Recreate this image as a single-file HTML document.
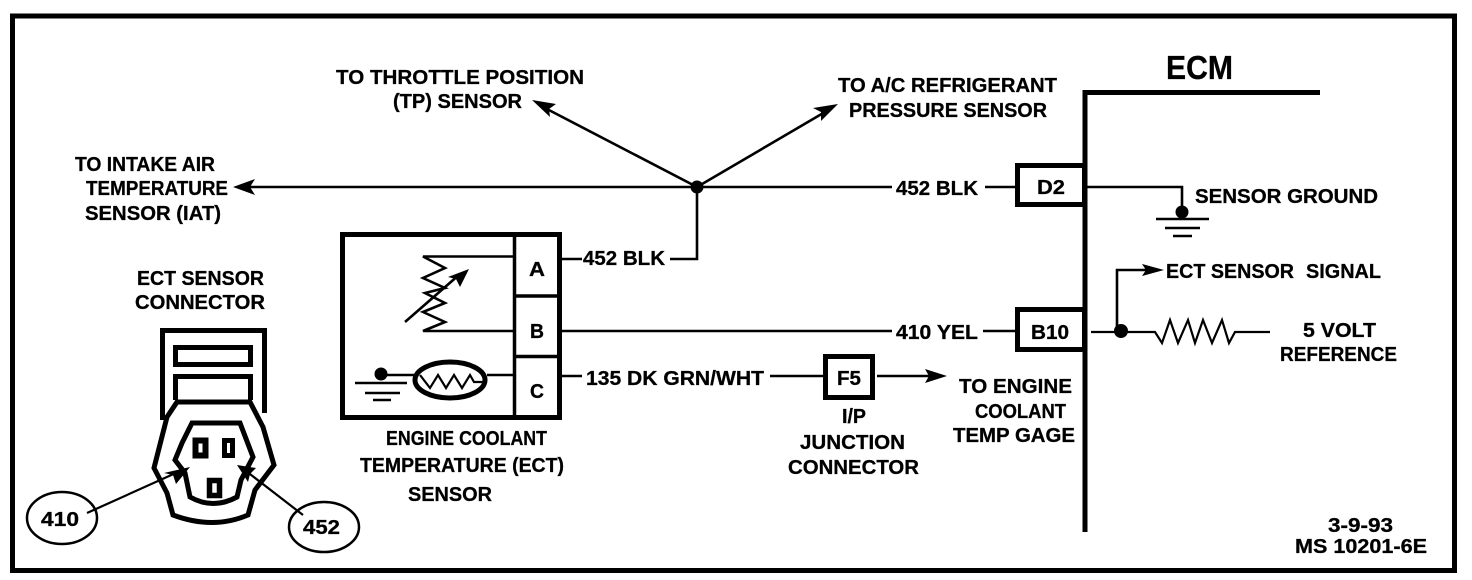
<!DOCTYPE html>
<html><head><meta charset="utf-8"><style>
html,body{margin:0;padding:0;background:#fff;width:1472px;height:580px;overflow:hidden}
svg{display:block}
text{font-family:"Liberation Sans",sans-serif;font-weight:700;font-size:20.5px;fill:#000;stroke:#000;stroke-width:.3px}
.l{fill:none;stroke:#000;stroke-width:2.6}
.t{fill:none;stroke:#000;stroke-width:2.2}
.b{fill:none;stroke:#000;stroke-width:5}
</style></head><body>
<svg width="1472" height="580" viewBox="0 0 1472 580" xmlns="http://www.w3.org/2000/svg">
<rect x="12.5" y="16" width="1442" height="554.5" fill="none" stroke="#000" stroke-width="5"/>
<!-- ECM -->
<path d="M1320 92.5H1085V532" fill="none" stroke="#000" stroke-width="5"/>
<text x="1166" y="79" style="font-size:33px" textLength="67" lengthAdjust="spacingAndGlyphs">ECM</text>
<rect x="1017.5" y="165.5" width="67" height="39" class="b"/>
<rect x="1017.5" y="309.5" width="67" height="40" class="b"/>
<text x="1037" y="194" textLength="28" lengthAdjust="spacingAndGlyphs">D2</text>
<text x="1031" y="339" textLength="38" lengthAdjust="spacingAndGlyphs">B10</text>
<!-- main wire -->
<path class="l" d="M248 187H892M985 187H1016"/>
<path d="M233 187L255 179L250 187L255 195Z"/>
<circle cx="697" cy="187" r="6.5"/>
<path class="l" d="M697 187V259H670"/>
<path class="l" d="M697 187L545 108M697 187L825 112"/>
<path d="M532 100L556 104L549 109L550 117Z"/>
<path d="M838 104L821 121L821 112L813 108Z"/>
<path class="l" d="M562 259H582"/>
<path class="l" d="M562 331H892M983 331H1016"/>
<path class="l" d="M562 376H582M770 376H823M877 376H932"/>
<path d="M947 376L925 369L929 376L925 383Z"/>
<rect x="825.5" y="356.5" width="47" height="41" class="b"/>
<text x="837" y="385" textLength="24" lengthAdjust="spacingAndGlyphs">F5</text>
<!-- right wires -->
<path class="l" d="M1087 187H1182V212"/>
<circle cx="1182" cy="212" r="6.5"/>
<path class="l" d="M1156 219H1209M1165 228H1200M1173 236H1192"/>
<path class="t" d="M1091 332H1155L1162 343L1170 320L1178 343L1188 320L1195 343L1203 320L1212 343L1222 320L1229 343L1235 332H1270"/>
<circle cx="1121" cy="331" r="7"/>
<path class="l" d="M1117 331V270H1150"/>
<path d="M1164 270L1142 264L1146 270L1142 276Z"/>
<!-- ECT sensor -->
<rect x="342.5" y="234.5" width="217" height="183" class="b"/>
<path class="b" style="stroke-width:3.5" d="M514.5 234V417M514 296H560M514 356.5H560"/>
<text x="529" y="276" textLength="16" lengthAdjust="spacingAndGlyphs">A</text>
<text x="530" y="338" textLength="14" lengthAdjust="spacingAndGlyphs">B</text>
<text x="530" y="398" textLength="14" lengthAdjust="spacingAndGlyphs">C</text>
<path class="l" d="M514 256.5H423L445 268L423 278L445 288L425 293L445 303L423 312L445 322L423 331H514"/>
<path class="l" d="M405 322L460 274"/>
<path d="M469 269L460 287L456 279L448 277Z"/>
<circle cx="381" cy="374" r="6.5"/>
<path class="l" d="M381 375H416M487 375H514M355 383H407M365 393H400M373 400H391"/>
<ellipse cx="450" cy="380" rx="35" ry="18" class="b"/>
<path class="t" d="M420 375L430 388L438 375L446 388L454 375L462 388L470 375L474 382H484"/>
<!-- connector -->
<path d="M162.5 420V330.5H264.5V413" class="b"/>
<rect x="175.5" y="347.5" width="75" height="17" class="b"/>
<path d="M175.5 400V376.5H250.5V400" class="b"/>
<path d="M177 402H250L263 427L274 465L255 490L248 515Q213 530 173 515L167 493L154 468L167 417Z" class="b"/>
<path d="M192 423H240L253 457L241 480L237 497Q213 510 190 497L185 473L175 460L182 443Z" class="b"/>
<rect x="195.5" y="440.5" width="10" height="15" class="b" style="stroke-width:6"/>
<rect x="224.5" y="440.5" width="8" height="15" class="b"/>
<rect x="209.5" y="480.5" width="10" height="15" class="b" style="stroke-width:5.5"/>
<ellipse cx="62" cy="518" rx="35" ry="26" fill="#fff" stroke="#000" stroke-width="2.5"/>
<ellipse cx="324" cy="527" rx="35" ry="25" fill="#fff" stroke="#000" stroke-width="2.5"/>
<path class="t" d="M87 513L178 472M303 515L246 471"/>
<path d="M190 467L176 484L173 475L164 473Z"/>
<path d="M237 465L256 468L250 474L248 482Z"/>
<text x="41" y="526" textLength="38" lengthAdjust="spacingAndGlyphs">410</text>
<text x="303" y="534" textLength="37" lengthAdjust="spacingAndGlyphs">452</text>
<!-- labels -->
<text x="336" y="84" textLength="248" lengthAdjust="spacingAndGlyphs">TO THROTTLE POSITION</text>
<text x="393" y="108" textLength="129" lengthAdjust="spacingAndGlyphs">(TP) SENSOR</text>
<text x="838" y="92" textLength="219" lengthAdjust="spacingAndGlyphs">TO A/C REFRIGERANT</text>
<text x="849" y="117" textLength="198" lengthAdjust="spacingAndGlyphs">PRESSURE SENSOR</text>
<text x="75" y="171" textLength="140" lengthAdjust="spacingAndGlyphs">TO INTAKE AIR</text>
<text x="86" y="195" textLength="142" lengthAdjust="spacingAndGlyphs">TEMPERATURE</text>
<text x="85" y="220" textLength="136" lengthAdjust="spacingAndGlyphs">SENSOR (IAT)</text>
<text x="137" y="285" textLength="127" lengthAdjust="spacingAndGlyphs">ECT SENSOR</text>
<text x="135" y="309" textLength="130" lengthAdjust="spacingAndGlyphs">CONNECTOR</text>
<text x="896" y="195" textLength="82" lengthAdjust="spacingAndGlyphs">452 BLK</text>
<text x="583" y="265" textLength="82" lengthAdjust="spacingAndGlyphs">452 BLK</text>
<text x="896" y="339" textLength="82" lengthAdjust="spacingAndGlyphs">410 YEL</text>
<text x="586" y="385" textLength="178" lengthAdjust="spacingAndGlyphs">135 DK GRN/WHT</text>
<text x="359" y="445" dx="27" textLength="161" lengthAdjust="spacingAndGlyphs">ENGINE COOLANT</text>
<text x="360" y="472" textLength="204" lengthAdjust="spacingAndGlyphs">TEMPERATURE (ECT)</text>
<text x="408" y="501" textLength="84" lengthAdjust="spacingAndGlyphs">SENSOR</text>
<text x="842" y="423" textLength="24" lengthAdjust="spacingAndGlyphs">I/P</text>
<text x="800" y="449" textLength="105" lengthAdjust="spacingAndGlyphs">JUNCTION</text>
<text x="788" y="474" textLength="131" lengthAdjust="spacingAndGlyphs">CONNECTOR</text>
<text x="959" y="393" textLength="113" lengthAdjust="spacingAndGlyphs">TO ENGINE</text>
<text x="975" y="418" textLength="91" lengthAdjust="spacingAndGlyphs">COOLANT</text>
<text x="953" y="442" textLength="122" lengthAdjust="spacingAndGlyphs">TEMP GAGE</text>
<text x="1195" y="203" textLength="183" lengthAdjust="spacingAndGlyphs">SENSOR GROUND</text>
<text x="1166" y="278" textLength="128" lengthAdjust="spacingAndGlyphs">ECT SENSOR</text>
<text x="1306" y="278" textLength="75" lengthAdjust="spacingAndGlyphs">SIGNAL</text>
<text x="1303" y="337" textLength="73" lengthAdjust="spacingAndGlyphs">5 VOLT</text>
<text x="1280" y="361" textLength="117" lengthAdjust="spacingAndGlyphs">REFERENCE</text>
<text x="1328" y="532" textLength="65" lengthAdjust="spacingAndGlyphs">3-9-93</text>
<text x="1295" y="553" textLength="132" lengthAdjust="spacingAndGlyphs">MS 10201-6E</text>
</svg>
</body></html>
